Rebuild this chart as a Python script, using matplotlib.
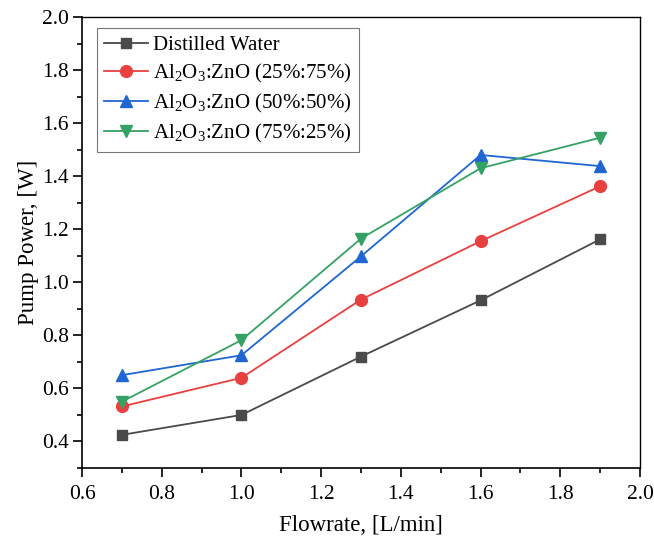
import matplotlib
matplotlib.use("Agg")
import matplotlib.pyplot as plt
from matplotlib.ticker import MultipleLocator

plt.rcParams['font.family'] = ['Liberation Serif', 'DejaVu Serif']
plt.rcParams['mathtext.fontset'] = 'custom'
plt.rcParams['mathtext.rm'] = 'Liberation Serif'

flowrate = [0.7, 1.0, 1.3, 1.6, 1.9]
distilled = [0.425, 0.50, 0.72, 0.932, 1.162]
mix_25_75 = [0.532, 0.640, 0.935, 1.155, 1.362]
mix_50_50 = [0.650, 0.725, 1.098, 1.480, 1.438]
mix_75_25 = [0.550, 0.782, 1.165, 1.430, 1.545]

labels = ["Distilled Water",
          r"Al$_2$O$_3$:ZnO (25%:75%)",
          r"Al$_2$O$_3$:ZnO (50%:50%)",
          r"Al$_2$O$_3$:ZnO (75%:25%)"]

fig = plt.figure(figsize=(6.54, 5.40), dpi=100)
ax = fig.add_axes([0.1254, 0.1333, 0.8532, 0.8352])

ax.plot(flowrate, distilled, '-s', color='#4a4a4a', ms=7.5, lw=1.3, label=labels[0])
ax.plot(flowrate, mix_25_75, '-o', color='#e8403f', ms=8.5, lw=1.3, label=labels[1])
ax.plot(flowrate, mix_50_50, '-^', color='#1f66d1', ms=8.5, lw=1.3, label=labels[2])
ax.plot(flowrate, mix_75_25, '-v', color='#35a265', ms=8.5, lw=1.3, label=labels[3])

ax.set_xlim(0.6, 2.0)
ax.set_ylim(0.3, 2.0)
ax.xaxis.set_major_locator(MultipleLocator(0.2))
ax.xaxis.set_minor_locator(MultipleLocator(0.1))
ax.yaxis.set_minor_locator(MultipleLocator(0.1))
ax.set_yticks([0.4, 0.6, 0.8, 1.0, 1.2, 1.4, 1.6, 1.8, 2.0])
ax.tick_params(which='major', direction='out', length=6.5, width=1.2, labelsize=15.5, top=False, right=False)
ax.tick_params(which='minor', direction='out', length=3.5, width=1.2, top=False, right=False)
ax.tick_params(axis='x', pad=6)
ax.tick_params(axis='y', pad=3)
for s in ax.spines.values():
    s.set_linewidth(1.2)
ax.spines['top'].set_linewidth(1.0)
ax.spines['right'].set_linewidth(1.0)

ax.set_xlabel("Flowrate, [L/min]", fontsize=16.5, labelpad=8)
ax.set_ylabel("Pump Power, [W]", fontsize=16.5, labelpad=2)

leg = ax.legend(loc='upper left', bbox_to_anchor=(15/558, 1 - 11/451), borderaxespad=0,
                fontsize=15, frameon=True, fancybox=False,
                edgecolor='#555555', handlelength=2.1,
                labelspacing=0.33, borderpad=0.35, handletextpad=0.25)
leg.get_frame().set_linewidth(0.8)

fig.savefig("out.png", dpi=100)
